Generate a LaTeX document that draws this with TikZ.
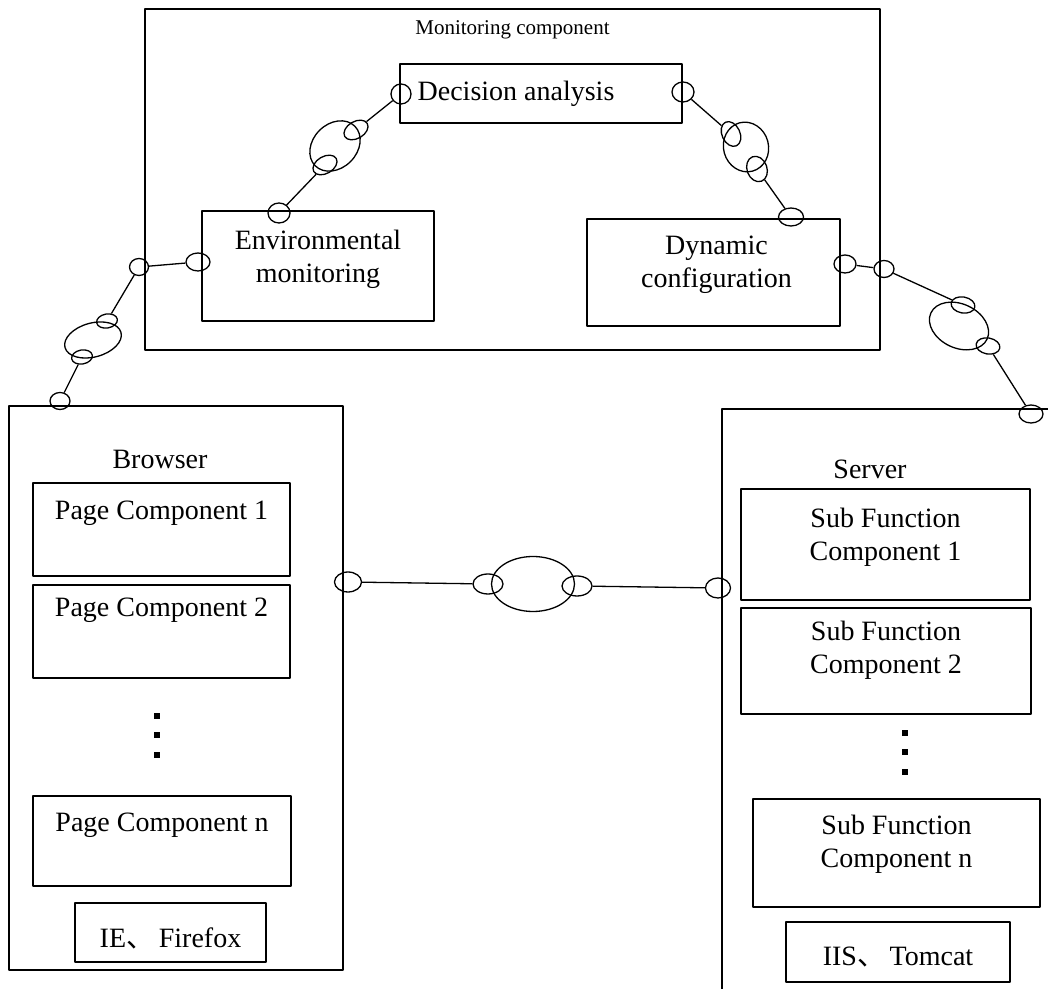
\documentclass[tikz,border=0pt]{standalone}
\usepackage{fontspec}
\setmainfont{Liberation Serif}
\newfontfamily\cjk{Noto Sans CJK SC}
\usetikzlibrary{shapes.geometric}
\tikzset{
  box/.style={draw,rectangle,inner sep=0pt,line width=1.3bp},
  port/.style={draw,ellipse,inner sep=0pt,line width=1.3bp},
  wire/.style={line width=1.3bp},
}
\begin{document}
\begin{tikzpicture}[line join=bevel,font=\fontsize{28bp}{33bp}\selectfont]
\useasboundingbox (0bp,0bp) rectangle (1048bp,989bp);
\clip (0bp,0bp) rectangle (1048bp,989bp);
%% monitoring component
\node (node_mon) at (512.5bp,809.5bp) [box,minimum width=735bp,minimum height=341bp,
  label={[anchor=center,yshift=-21bp,font=\fontsize{21bp}{25bp}\selectfont]north:Monitoring component}] {};
  \node (node_dec) at (541bp,895.5bp) [box,minimum width=282bp,minimum height=59bp,
  label={[xshift=-25bp]center:Decision analysis}] {};
  \node (node_env) at (318bp,723bp) [box,minimum width=232bp,minimum height=110bp,
  label={[align=center,yshift=7bp]center:Environmental\\monitoring}] {};
  \node (node_dyn) at (713.5bp,716.5bp) [box,minimum width=253bp,minimum height=107bp,
  label={[align=center,xshift=3bp,yshift=8bp]center:Dynamic\\configuration}] {};
%% browser
\node (node_browser) at (176bp,301bp) [box,minimum width=334bp,minimum height=564bp,
  label={[xshift=-16bp,yshift=229bp]center:Browser}] {};
  \node (node_page_1) at (161.5bp,459.5bp) [box,minimum width=257bp,minimum height=93bp,
  label={[yshift=16bp]center:Page Component 1}] {};
  \node (node_page_2) at (161.5bp,357.5bp) [box,minimum width=257bp,minimum height=93bp,
  label={[yshift=21bp]center:Page Component 2}] {};
  \node (node_page_n) at (162bp,148bp) [box,minimum width=258bp,minimum height=90bp,
  label={[yshift=16bp]center:Page Component n}] {};
  \node (node_ie) at (170.5bp,56.5bp) [box,minimum width=191bp,minimum height=59bp,
  label={[yshift=-6bp]center:IE{\cjk 、}\,Firefox}] {};
  \foreach \y in {270,251,231}
    \fill (154bp,\y bp) rectangle +(6bp,6bp);
%% server
\node (node_server) at (896bp,280bp) [box,minimum width=348bp,minimum height=600bp,
  label={[xshift=-26bp,yshift=240bp]center:Server}] {};
  \node (node_sub_1) at (885.5bp,444.5bp) [box,minimum width=289bp,minimum height=111bp,
  label={[align=center,yshift=7.5bp]center:Sub Function\\Component 1}] {};
  \node (node_sub_2) at (886bp,328bp) [box,minimum width=290bp,minimum height=106bp,
  label={[align=center,yshift=11bp]center:Sub Function\\Component 2}] {};
  \node (node_sub_n) at (896.5bp,136bp) [box,minimum width=287bp,minimum height=108bp,
  label={[align=center,yshift=9bp]center:Sub Function\\Component n}] {};
  \node (node_iis) at (898bp,37bp) [box,minimum width=224bp,minimum height=60bp,
  label={[yshift=-5bp]center:IIS{\cjk 、}\,Tomcat}] {};
  \foreach \y in {253,234,214}
    \fill (902bp,\y bp) rectangle +(6bp,6bp);
%% environmental monitoring -- decision analysis
\node (port_a1) at (279bp,776bp) [port,minimum width=22bp,minimum height=20bp] {};
  \node (port_a2) at (325bp,824bp) [port,minimum width=26bp,minimum height=17bp,rotate=30] {};
  \node (port_a3) at (335bp,843bp) [port,minimum width=56bp,minimum height=44bp,rotate=45] {};
  \node (port_a4) at (356bp,859bp) [port,minimum width=26bp,minimum height=17bp,rotate=30] {};
  \node (port_a5) at (401bp,895bp) [port,minimum width=20bp,minimum height=20bp] {};
  \draw [wire] (port_a1) -- (port_a2);
  \draw [wire] (port_a4) -- (port_a5);
%% decision analysis -- dynamic configuration
\node (port_b1) at (683bp,897bp) [port,minimum width=22bp,minimum height=20bp] {};
  \node (port_b2) at (731bp,855bp) [port,minimum width=26bp,minimum height=18bp,rotate=-65] {};
  \node (port_b3) at (746bp,842bp) [port,minimum width=50bp,minimum height=45bp,rotate=-75] {};
  \node (port_b4) at (757bp,820bp) [port,minimum width=26bp,minimum height=20bp,rotate=-70] {};
  \node (port_b5) at (791bp,772bp) [port,minimum width=25bp,minimum height=18bp] {};
  \draw [wire] (port_b1) -- (port_b2);
  \draw [wire] (port_b4) -- (port_b5);
%% environmental monitoring -- browser
\node (port_c1) at (198bp,727bp) [port,minimum width=24bp,minimum height=18bp] {};
  \node (port_c2) at (139bp,722bp) [port,minimum width=19bp,minimum height=17bp] {};
  \node (port_c3) at (107bp,668bp) [port,minimum width=21bp,minimum height=14bp,rotate=10] {};
  \node (port_c4) at (93bp,649bp) [port,minimum width=58bp,minimum height=34bp,rotate=15] {};
  \node (port_c5) at (82bp,632bp) [port,minimum width=21bp,minimum height=14bp,rotate=10] {};
  \node (port_c6) at (60bp,588bp) [port,minimum width=20bp,minimum height=17bp] {};
  \draw [wire] (port_c1) -- (port_c2);
  \draw [wire] (port_c2) -- (port_c3);
  \draw [wire] (port_c5) -- (port_c6);
%% dynamic configuration -- server
\node (port_d1) at (845bp,725bp) [port,minimum width=22bp,minimum height=18bp] {};
  \node (port_d2) at (884bp,720bp) [port,minimum width=20bp,minimum height=17bp] {};
  \node (port_d3) at (963bp,684bp) [port,minimum width=24bp,minimum height=16bp,rotate=-10] {};
  \node (port_d4) at (959bp,663bp) [port,minimum width=62bp,minimum height=44bp,rotate=-25] {};
  \node (port_d5) at (988bp,643bp) [port,minimum width=24bp,minimum height=16bp,rotate=-10] {};
  \node (port_d6) at (1031bp,575bp) [port,minimum width=24bp,minimum height=18bp] {};
  \draw [wire] (port_d1) -- (port_d2);
  \draw [wire] (port_d2) -- (port_d3);
  \draw [wire] (port_d5) -- (port_d6);
%% browser -- server
\node (port_e1) at (348bp,407bp) [port,minimum width=27bp,minimum height=20bp] {};
  \node (port_e2) at (488bp,405bp) [port,minimum width=30bp,minimum height=20bp] {};
  \node (port_e3) at (533bp,405bp) [port,minimum width=83bp,minimum height=55bp] {};
  \node (port_e4) at (577bp,403bp) [port,minimum width=30bp,minimum height=20bp] {};
  \node (port_e5) at (718bp,401bp) [port,minimum width=25bp,minimum height=20bp] {};
  \draw [wire] (port_e1) -- (port_e2);
  \draw [wire] (port_e4) -- (port_e5);
%
\end{tikzpicture}
\end{document}
